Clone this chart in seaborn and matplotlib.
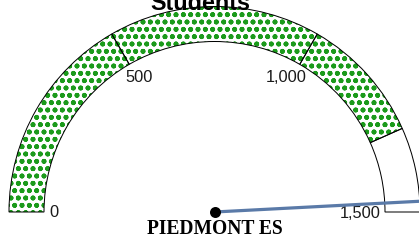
import numpy as np
import matplotlib
matplotlib.use("Agg")
import matplotlib.pyplot as plt
from matplotlib.patches import Wedge
import seaborn as sns

# gauge data
title = "Students"
school = "PIEDMONT ES"
band_edges = [0, 500, 1000, 1300, 1500]
band_patterned = [True, True, True, False]
tick_values = [0, 500, 1000, 1500]
tick_labels = ["0", "500", "1,000", "1,500"]
needle_value = 1475
gauge_max = 1500

DPI = 88
W, H = 419, 241

sns.set_theme(style="white")
plt.rcParams["font.family"] = ["Liberation Sans", "DejaVu Sans"]
plt.rcParams["hatch.linewidth"] = 1.6


def px(v):
    # pixels -> points
    return v * 72 / DPI


def to_angle(v):
    # 0 on the left, max on the right
    return 180.0 - 180.0 * v / gauge_max


fig = plt.figure(figsize=(W / DPI, H / DPI), dpi=DPI)
ax = fig.add_axes([0, 0, 1, 1])
ax.set_xlim(-214.5, W - 214.5)
ax.set_ylim(-(H - 212), 212)
ax.set_axis_off()

r_out = 205.5
r_in = 170.5
green = "#1b9a1b"

# bands
for lo, hi, patterned in zip(band_edges[:-1], band_edges[1:], band_patterned):
    t1, t2 = to_angle(hi), to_angle(lo)
    if patterned:
        ax.add_patch(Wedge((0, 0), r_out, t1, t2, width=r_out - r_in,
                           facecolor="white", edgecolor=green, linewidth=0,
                           hatch="oo", zorder=1))
    else:
        ax.add_patch(Wedge((0, 0), r_out, t1, t2, width=r_out - r_in,
                           facecolor="white", linewidth=0, zorder=1))
    ax.add_patch(Wedge((0, 0), r_out, t1, t2, width=r_out - r_in,
                       fill=False, edgecolor="black", linewidth=px(1.0), zorder=2))

# tick labels inside the arc
offsets = {0: (5, -1, "left", "center"), 500: (-4, -6, "left", "top"),
           1000: (7, -6, "right", "top"), 1500: (-4, -1, "right", "center")}
for v, lab in zip(tick_values, tick_labels):
    a = np.deg2rad(to_angle(v))
    dx, dy, ha, va = offsets[v]
    ax.annotate(lab, (r_in * np.cos(a), r_in * np.sin(a)), xytext=(dx, dy),
                textcoords="offset pixels", ha=ha, va=va,
                fontsize=px(16.4), color="#1a1a1a", zorder=3)

# needle
a = np.deg2rad(to_angle(needle_value))
ax.plot([0, r_out * 1.02 * np.cos(a)], [0, r_out * 1.02 * np.sin(a)],
        color="#5a7aa8", linewidth=px(3.2), solid_capstyle="butt", zorder=4)
ax.scatter([0], [0], s=px(11) ** 2, color="black", zorder=5, linewidths=0)

# texts
fig.text(200 / W, 1 - 10 / H, title, ha="center", va="baseline",
         fontsize=px(23.4), fontweight="bold", color="black")
fig.text(214.5 / W, 1 - 234 / H, school, ha="center", va="baseline",
         fontsize=px(19.5), fontweight="bold", color="black",
         family=["Liberation Serif", "DejaVu Serif"])

fig.savefig("out.png", dpi=DPI)
